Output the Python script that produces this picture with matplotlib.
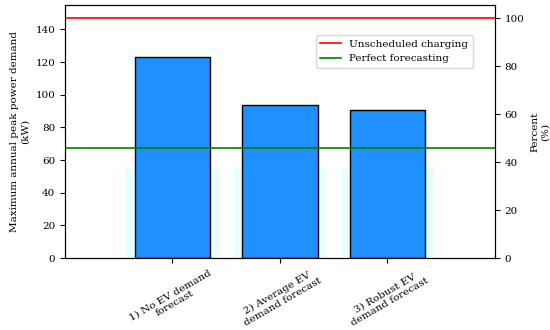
import numpy as np
import matplotlib
matplotlib.use("Agg")
import matplotlib.pyplot as plt

plt.rcParams['font.family'] = 'DejaVu Serif'
fs = 7.5

# data
labels = ["1) No EV demand\nforecast", "2) Average EV\ndemand forecast", "3) Robust EV\ndemand forecast"]
peak_kw = [123, 93.5, 90.5]
faint_pct = [37.5, 37.5, 37.5]
unscheduled_kw = 147
perfect_kw = 67.2

x = np.arange(1, len(labels) + 1)

fig = plt.figure(figsize=(5.5, 3.3), dpi=100)
ax = fig.add_axes([0.118, 0.218, 0.782, 0.767])

# faint background bars (percent scale)
ax.bar(x, np.array(faint_pct) * unscheduled_kw / 100, width=0.86,
       color='#e8ffff', zorder=1)
ax.bar(x, peak_kw, width=0.7, color='#1e90ff', edgecolor='black',
       linewidth=1, zorder=2)
ax.axhline(unscheduled_kw, color='red', linewidth=1.2, label='Unscheduled charging', zorder=3)
ax.axhline(perfect_kw, color='green', linewidth=1.2, label='Perfect forecasting', zorder=3)

ax.set_xlim(0, 4)
ax.set_ylim(0, 155)
ax.set_yticks(np.arange(0, 141, 20))
ax.set_xticks(x)
ax.set_xticklabels(labels, rotation=30, ha='center', fontsize=fs, linespacing=1.1)
ax.tick_params(axis='y', labelsize=fs)
ax.set_ylabel("Maximum annual peak power demand\n(kW)", fontsize=fs)
ax.legend(loc='upper right', bbox_to_anchor=(0.96, 0.9), fontsize=fs)

ax2 = ax.twinx()
ax2.set_ylim(0, 155 / unscheduled_kw * 100)
ax2.set_yticks(np.arange(0, 101, 20))
ax2.tick_params(axis='y', labelsize=fs)
ax2.set_ylabel("Percent\n(%)", fontsize=fs)

plt.savefig("out.png", dpi=100)
